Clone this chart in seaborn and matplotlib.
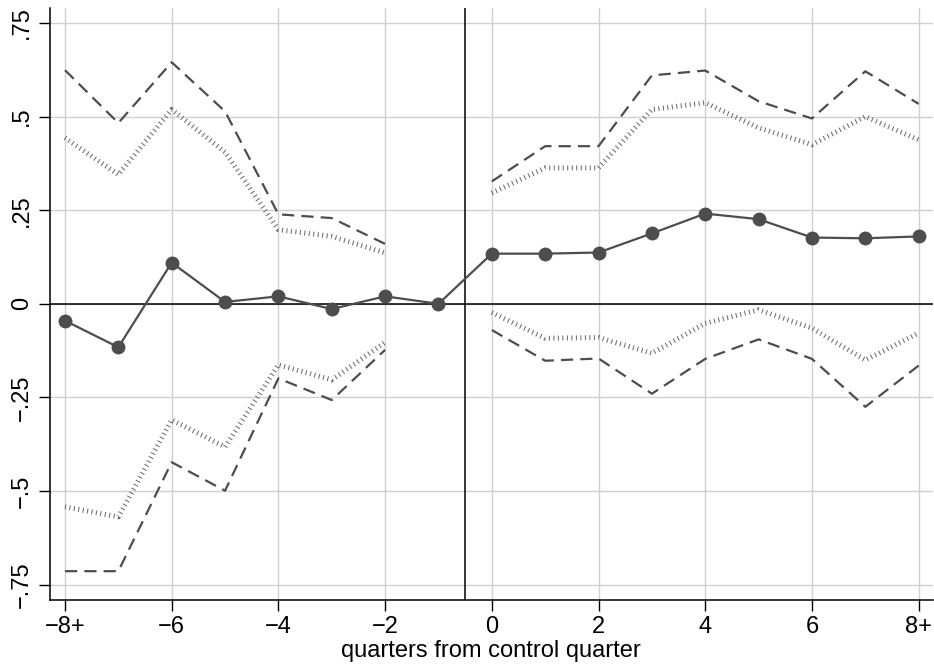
import numpy as np
import pandas as pd
import matplotlib
matplotlib.use("Agg")
import matplotlib.pyplot as plt
import seaborn as sns

# event-study estimates
quarters = [-8, -7, -6, -5, -4, -3, -2, -1, 0, 1, 2, 3, 4, 5, 6, 7, 8]
coef = [-0.045, -0.116, 0.110, 0.005, 0.020, -0.014, 0.020, 0.0,
        0.134, 0.134, 0.137, 0.188, 0.241, 0.226, 0.177, 0.175, 0.180]

# confidence bands (no band at the omitted quarter -1)
ci95_hi = [0.624, 0.483, 0.645, 0.514, 0.239, 0.229, 0.160, np.nan,
           0.327, 0.421, 0.421, 0.610, 0.623, 0.541, 0.495, 0.621, 0.534]
ci95_lo = [-0.714, -0.714, -0.423, -0.499, -0.199, -0.257, -0.123, np.nan,
           -0.070, -0.152, -0.146, -0.240, -0.147, -0.095, -0.147, -0.275, -0.165]
ci90_hi = [0.443, 0.345, 0.519, 0.405, 0.198, 0.180, 0.136, np.nan,
           0.296, 0.363, 0.363, 0.519, 0.537, 0.470, 0.425, 0.500, 0.438]
ci90_lo = [-0.542, -0.569, -0.310, -0.382, -0.163, -0.203, -0.103, np.nan,
           -0.023, -0.092, -0.090, -0.132, -0.052, -0.016, -0.065, -0.150, -0.078]

xtick_pos = [-8, -6, -4, -2, 0, 2, 4, 6, 8]
xtick_labels = ["\u22128+", "\u22126", "\u22124", "\u22122", "0", "2", "4", "6", "8+"]
ytick_pos = [-0.75, -0.5, -0.25, 0, 0.25, 0.5, 0.75]
ytick_labels = ["\u2212.75", "\u2212.5", "\u2212.25", "0", ".25", ".5", ".75"]

df = pd.DataFrame({"q": quarters, "coef": coef,
                   "hi95": ci95_hi, "lo95": ci95_lo,
                   "hi90": ci90_hi, "lo90": ci90_lo})

sns.set_style("white")
plt.rcParams["font.family"] = ["Liberation Sans", "DejaVu Sans"]
plt.rcParams["text.color"] = "black"
plt.rcParams["xtick.color"] = "black"
plt.rcParams["ytick.color"] = "black"
plt.rcParams["axes.labelcolor"] = "black"

fig = plt.figure(figsize=(9.34, 6.67), dpi=100)
ax = fig.add_axes([0.053, 0.101, 0.946, 0.887])

grid_c = "#d0d0d0"
for x in xtick_pos:
    ax.axvline(x, color=grid_c, lw=1.0, zorder=0)
for y in ytick_pos:
    ax.axhline(y, color=grid_c, lw=1.0, zorder=0)

ax.axhline(0, color="black", lw=1.1, zorder=1)
ax.axvline(-0.5, color="black", lw=1.1, zorder=1)

pre = df[df["q"] <= -2]
post = df[df["q"] >= 0]
for part in (pre, post):
    for col in ("hi90", "lo90"):
        sns.lineplot(data=part, x="q", y=col, ax=ax, color="#6a6a6a",
                     linewidth=3.6, linestyle=(0, (0.2, 0.7)),
                     errorbar=None, zorder=2)
    for col in ("hi95", "lo95"):
        sns.lineplot(data=part, x="q", y=col, ax=ax, color="#4d4d4d",
                     linewidth=1.6, linestyle=(0, (5.5, 3.2)),
                     errorbar=None, zorder=3)

sns.lineplot(data=df, x="q", y="coef", ax=ax, color="#4d4d4d", linewidth=1.6,
             marker="o", markersize=10, markeredgewidth=0, errorbar=None, zorder=4)

ax.set_xlim(-8.29, 8.27)
ax.set_ylim(-0.79, 0.79)
ax.set_xticks(xtick_pos)
ax.set_xticklabels(xtick_labels, fontsize=17)
ax.set_yticks(ytick_pos)
ax.set_yticklabels(ytick_labels, fontsize=17, rotation=90, va="center")
ax.set_xlabel("quarters from control quarter", fontsize=17, labelpad=1)
ax.set_ylabel("")

for s in ("top", "right"):
    ax.spines[s].set_visible(False)
for s in ("left", "bottom"):
    ax.spines[s].set_color("black")
    ax.spines[s].set_linewidth(1.1)
ax.tick_params(axis="both", which="both", direction="out", length=8, width=1.0,
               color="black", left=True, bottom=True, pad=4)

fig.savefig("out.png", dpi=100)
